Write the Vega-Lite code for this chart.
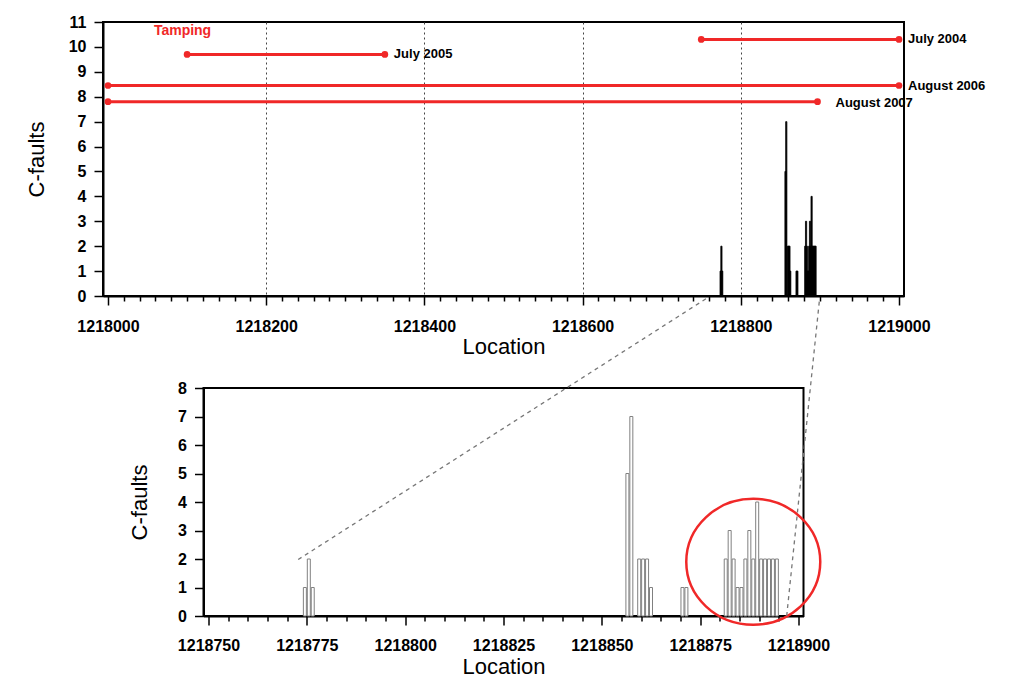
{
  "$schema": "https://vega.github.io/schema/vega-lite/v6.json",
  "background": "white",
  "padding": {"left": 24, "top": 13, "right": 5, "bottom": 5},
  "bounds": "flush",
  "center": true,
  "spacing": 92,
  "datasets": {
    "faults": [
      {"loc": 1218774.5, "c": 1}, {"loc": 1218775.5, "c": 2}, {"loc": 1218776.5, "c": 1},
      {"loc": 1218856.5, "c": 5}, {"loc": 1218857.5, "c": 7}, {"loc": 1218859.5, "c": 2},
      {"loc": 1218860.5, "c": 2}, {"loc": 1218861.5, "c": 2}, {"loc": 1218862.5, "c": 1},
      {"loc": 1218870.5, "c": 1}, {"loc": 1218871.5, "c": 1},
      {"loc": 1218881.5, "c": 2}, {"loc": 1218882.5, "c": 3}, {"loc": 1218883.5, "c": 2},
      {"loc": 1218884.5, "c": 1}, {"loc": 1218885.5, "c": 1}, {"loc": 1218886.5, "c": 2},
      {"loc": 1218887.5, "c": 3}, {"loc": 1218888.5, "c": 2}, {"loc": 1218889.5, "c": 4},
      {"loc": 1218890.5, "c": 2}, {"loc": 1218891.5, "c": 2}, {"loc": 1218892.5, "c": 2},
      {"loc": 1218893.5, "c": 2}, {"loc": 1218894.5, "c": 2}
    ],
    "tamping": [
      {"label": "July 2005", "start": 1218100, "end": 1218350, "level": 9.7},
      {"label": "July 2004", "start": 1218750, "end": 1219000, "level": 10.3},
      {"label": "August 2006", "start": 1218000, "end": 1219000, "level": 8.45},
      {"label": "August 2007", "start": 1218000, "end": 1218897, "level": 7.8}
    ]
  },
  "config": {
    "view": {"stroke": "black", "strokeWidth": 2},
    "axis": {
      "labelFont": "Liberation Sans",
      "labelFontWeight": "bold",
      "labelFontSize": 16,
      "labelColor": "black",
      "tickColor": "black",
      "tickWidth": 1.5,
      "domainColor": "black",
      "domainWidth": 2,
      "titleFont": "Liberation Sans",
      "titleFontSize": 22,
      "titleFontWeight": "normal",
      "titleColor": "black",
      "grid": false
    }
  },
  "vconcat": [
    {
      "width": 801,
      "height": 274,
      "layer": [
        {
          "data": {"name": "faults"},
          "mark": {"type": "bar", "width": 1.2, "color": "black", "stroke": "black", "strokeWidth": 0.8},
          "encoding": {
            "x": {
              "field": "loc", "type": "quantitative",
              "scale": {"domain": [1218000, 1219000], "nice": false, "zero": false},
              "axis": {
                "title": "Location",
                "tickCount": 200,
                "values": [1218000,1218020,1218040,1218060,1218080,1218100,1218120,1218140,1218160,1218180,1218200,1218220,1218240,1218260,1218280,1218300,1218320,1218340,1218360,1218380,1218400,1218420,1218440,1218460,1218480,1218500,1218520,1218540,1218560,1218580,1218600,1218620,1218640,1218660,1218680,1218700,1218720,1218740,1218760,1218780,1218800,1218820,1218840,1218860,1218880,1218900,1218920,1218940,1218960,1218980,1219000],
                "labelExpr": "datum.value % 200 === 0 ? format(datum.value, 'd') : ''",
                "tickSize": {"condition": {"test": "datum.value % 200 === 0", "value": 9}, "value": 5},
                "grid": true,
                "gridDash": [2, 3],
                "gridColor": "#444",
                "gridWidth": 1,
                "gridOpacity": {"condition": {"test": "datum.value % 200 === 0 && datum.value > 1218000 && datum.value < 1219000", "value": 1}, "value": 0},
                "labelPadding": 13,
                "titlePadding": 2,
                "labelOverlap": false,
                "labelFlush": false
              }
            },
            "y": {
              "field": "c", "type": "quantitative",
              "scale": {"domain": [0, 11], "nice": false},
              "axis": {"title": "C-faults", "format": "d", "tickCount": 50, "values": [0,1,2,3,4,5,6,7,8,9,10,11], "tickSize": 9, "labelPadding": 8, "titlePadding": 20, "labelOverlap": false}
            }
          }
        },
        {
          "data": {"name": "tamping"},
          "mark": {"type": "rule", "color": "#f02828", "strokeWidth": 3},
          "encoding": {
            "x": {"field": "start", "type": "quantitative"},
            "x2": {"field": "end"},
            "y": {"field": "level", "type": "quantitative"}
          }
        },
        {
          "data": {"name": "tamping"},
          "mark": {"type": "point", "filled": true, "color": "#f02828", "size": 45, "opacity": 1},
          "encoding": {
            "x": {"field": "start", "type": "quantitative"},
            "y": {"field": "level", "type": "quantitative"}
          }
        },
        {
          "data": {"name": "tamping"},
          "mark": {"type": "point", "filled": true, "color": "#f02828", "size": 45, "opacity": 1},
          "encoding": {
            "x": {"field": "end", "type": "quantitative"},
            "y": {"field": "level", "type": "quantitative"}
          }
        },
        {
          "data": {"name": "tamping"},
          "transform": [{"filter": "datum.label !== 'August 2007'"}],
          "mark": {"type": "text", "align": "left", "baseline": "middle", "dx": 9, "font": "Liberation Sans", "fontWeight": "bold", "fontSize": 13, "color": "black"},
          "encoding": {
            "x": {"field": "end", "type": "quantitative"},
            "y": {"field": "level", "type": "quantitative"},
            "text": {"field": "label"}
          }
        },
        {
          "data": {"name": "tamping"},
          "transform": [{"filter": "datum.label === 'August 2007'"}],
          "mark": {"type": "text", "align": "left", "baseline": "middle", "dx": 18, "dy": 1, "font": "Liberation Sans", "fontWeight": "bold", "fontSize": 13, "color": "black"},
          "encoding": {
            "x": {"field": "end", "type": "quantitative"},
            "y": {"field": "level", "type": "quantitative"},
            "text": {"field": "label"}
          }
        },
        {
          "data": {"values": [{"loc": 1218058, "c": 10.65, "t": "Tamping"}]},
          "mark": {"type": "text", "align": "left", "baseline": "middle", "font": "Liberation Sans", "fontWeight": "bold", "fontSize": 14, "color": "#f02828"},
          "encoding": {
            "x": {"field": "loc", "type": "quantitative"},
            "y": {"field": "c", "type": "quantitative"},
            "text": {"field": "t"}
          }
        }
      ]
    },
    {
      "width": 600,
      "height": 228,
      "layer": [
        {
          "data": {"name": "faults"},
          "mark": {"type": "bar", "width": 3, "fill": "white", "stroke": "#808080", "strokeWidth": 1},
          "encoding": {
            "x": {
              "field": "loc", "type": "quantitative",
              "scale": {"domain": [1218750, 1218900], "nice": false, "zero": false},
              "axis": {
                "title": "Location",
                "tickCount": 200,
                "values": [1218750,1218755,1218760,1218765,1218770,1218775,1218780,1218785,1218790,1218795,1218800,1218805,1218810,1218815,1218820,1218825,1218830,1218835,1218840,1218845,1218850,1218855,1218860,1218865,1218870,1218875,1218880,1218885,1218890,1218895,1218900],
                "labelExpr": "datum.value % 25 === 0 ? format(datum.value, 'd') : ''",
                "tickSize": {"condition": {"test": "datum.value % 25 === 0", "value": 9}, "value": 5},
                "labelPadding": 12,
                "titlePadding": 3,
                "labelOverlap": false,
                "labelFlush": false
              }
            },
            "y": {
              "field": "c", "type": "quantitative",
              "scale": {"domain": [0, 8], "nice": false},
              "axis": {"title": "C-faults", "format": "d", "tickCount": 50, "values": [0,1,2,3,4,5,6,7,8], "tickSize": 9, "labelPadding": 8, "titlePadding": 26, "labelOverlap": false}
            }
          }
        },
        {
          "data": {"values": [{"loc": 1218888.5, "c": 1.9}]},
          "mark": {"type": "point", "shape": "M-1,0A1,0.94 0 1,0 1,0A1,0.94 0 1,0 -1,0Z", "size": 17956, "filled": false, "stroke": "#f02828", "strokeWidth": 2.5, "opacity": 1},
          "encoding": {
            "x": {"field": "loc", "type": "quantitative"},
            "y": {"field": "c", "type": "quantitative"}
          }
        },
        {
          "data": {"values": [
            {"x1": 1218772.8, "y1": 1.98, "x2": 1218876.8, "y2": 11.16},
            {"x1": 1218897.0, "y1": 0, "x2": 1218905.3, "y2": 11.05}
          ]},
          "mark": {"type": "rule", "color": "#777777", "strokeWidth": 1.3, "strokeDash": [4, 4]},
          "encoding": {
            "x": {"field": "x1", "type": "quantitative"},
            "y": {"field": "y1", "type": "quantitative"},
            "x2": {"field": "x2"},
            "y2": {"field": "y2"}
          }
        }
      ]
    }
  ]
}
